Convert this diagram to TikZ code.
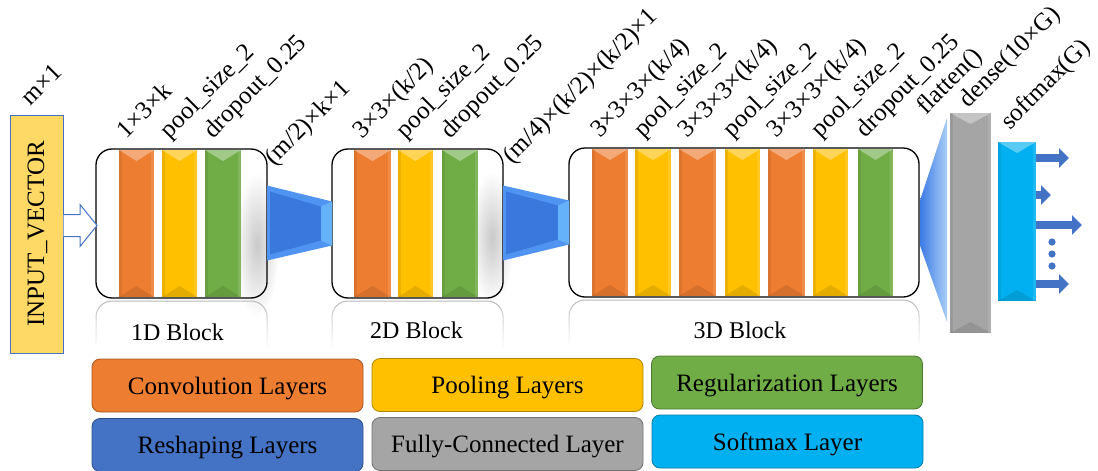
\documentclass[tikz,border=0pt]{standalone}
\usepackage{fontspec}
\setmainfont{Liberation Serif}
\usetikzlibrary{calc,fadings,arrows.meta}

\definecolor{cOrange}{HTML}{ED7D31}
\definecolor{cYellow}{HTML}{FFC000}
\definecolor{cGreen}{HTML}{70AD47}
\definecolor{cBlue}{HTML}{4472C4}
\definecolor{cGrey}{HTML}{A5A5A5}
\definecolor{cCyan}{HTML}{00B0F0}
\definecolor{cInput}{HTML}{FFD966}
\definecolor{cFunA}{HTML}{5094F2}
\definecolor{cFunB}{HTML}{3B78DE}
\definecolor{cFunC}{HTML}{66B2FA}
\definecolor{cFlatA}{HTML}{3C7BE4}
\definecolor{cFlatB}{HTML}{A9CDF7}

\tikzfading[name=NNsoft, inner color=transparent!65, outer color=transparent!100]

\tikzset{
  barnode/.style={inner sep=0pt, outer sep=0pt, draw=none},
  blockbox/.style={draw=black, line width=1.3pt, rounded corners=16pt, inner sep=0pt, outer sep=0pt, minimum height=149pt},
  toplabel/.style={rotate=45, anchor=base west, inner sep=0pt, outer sep=0pt, font=\fontsize{25}{25}\selectfont},
  blocklabel/.style={anchor=base, inner sep=0pt, font=\fontsize{24}{24}\selectfont},
  legend/.style={draw=#1!70!black, fill=#1, line width=0.8pt, rounded corners=8pt, minimum width=271pt, minimum height=53pt, inner sep=0pt, text depth=0pt, font=\fontsize{25}{25}\selectfont},
  reflect/.style={draw=black!28, line width=1pt, rounded corners=16pt, path fading=south},
  outarrow/.style={draw=cBlue, line width=8pt, -{Triangle[length=10pt,width=19pt]}},
  hollowarrow/.style={draw=cBlue, fill=white, line width=1pt},
  softshadow/.style={fill=black!60, path fading=NNsoft},
}

% name, xleft, xright, ytop, ybottom, colour
\newcommand\NNbar[6]{%
  \node[barnode, fill=#6, minimum width={(#3-#2)*1pt}, minimum height={(#5-#4)*1pt}] (#1) at ({(#2+#3)/2},{(#4+#5)/2}) {};
  \fill[white, opacity=.35] (#1.north west) -- (#1.north east) -- ($(#1.north)+(0,11)$) -- cycle;
  \fill[black, opacity=.10] (#1.south west) -- (#1.south east) -- ($(#1.south)+(0,-11)$) -- cycle;
  \fill[black, opacity=.07] (#1.north west) -- ($(#1.north west)+(3,0)$) -- ($(#1.south west)+(3,0)$) -- (#1.south west) -- cycle;
  \fill[white, opacity=.12] (#1.north east) -- ($(#1.north east)+(-3,0)$) -- ($(#1.south east)+(-3,0)$) -- (#1.south east) -- cycle;
}
% funnel between two anchors
\newcommand\NNfunnel[2]{%
  \fill[cFunA] ($(#1)+(0,-38)$) -- ($(#2)+(0,-22)$) -- ($(#2)+(0,22)$) -- ($(#1)+(0,37)$) -- cycle;
  \fill[cFunB] ($(#1)+(3,-32)$) -- ($(#2)+(-11,-17)$) -- ($(#2)+(-11,17)$) -- ($(#1)+(3,31)$) -- cycle;
  \fill[cFunC] ($(#2)+(0,-22)$) -- ($(#2)+(0,22)$) -- ($(#2)+(-11,17)$) -- ($(#2)+(-11,-17)$) -- cycle;
}
\newcommand\NNreflect[1]{%
  \draw[reflect] ($(#1.south west)+(0,50)$) -- ($(#1.south west)+(0,3)$) -- ($(#1.south east)+(0,3)$) -- ($(#1.south east)+(0,50)$);
}

\begin{document}
\begin{tikzpicture}[x=1pt, y=-1pt]
\useasboundingbox (0,0) rectangle (1098,471);
\fill[white] (0,0) rectangle (1098,471);

% soft shadows inside blocks
\fill[softshadow] (257,245) ellipse [x radius=22, y radius=72];
\fill[softshadow] (492,238) ellipse [x radius=22, y radius=66];

% 1D block bars
\NNbar{c11}{119}{154}{150}{297}{cOrange}
\NNbar{c12}{162}{197}{150}{297}{cYellow}
\NNbar{c13}{205}{241}{150}{297}{cGreen}
% 2D block bars
\NNbar{c21}{354}{391}{150}{297}{cOrange}
\NNbar{c22}{398}{433}{150}{297}{cYellow}
\NNbar{c23}{442}{478}{150}{297}{cGreen}
% 3D block bars
\NNbar{c31}{592}{628}{149}{296}{cOrange}
\NNbar{c32}{635}{671}{149}{296}{cYellow}
\NNbar{c33}{679}{716}{149}{296}{cOrange}
\NNbar{c34}{725}{760}{149}{296}{cYellow}
\NNbar{c35}{768}{805}{149}{296}{cOrange}
\NNbar{c36}{813}{848}{149}{296}{cYellow}
\NNbar{c37}{858}{893}{149}{296}{cGreen}

% blocks
\node[blockbox, minimum width=171pt] (b1) at (181.5,223.5) {};
\node[blockbox, minimum width=171pt] (b2) at (417.5,223.5) {};
\node[blockbox, minimum width=350pt] (b3) at (744,222.5) {};

% reflections
\NNreflect{b1}
\NNreflect{b2}
\NNreflect{b3}
\node[blocklabel] (r1) at ($(b1.south)+(-4,42)$) {1D Block};
\node[blocklabel] (r2) at ($(b2.south)+(-1,40)$) {2D Block};
\node[blocklabel] (r3) at ($(b3.south)+(-4,41)$) {3D Block};

% reshaping funnels
\NNfunnel{b1.east}{b2.west}
\NNfunnel{b2.east}{b3.west}

% dense and softmax
\NNbar{dn}{950}{991}{113}{333}{cGrey}
\NNbar{sm}{998}{1036}{142}{301}{cCyan}

% flatten wedge
\shade[left color=cFlatA, right color=cFlatB]
  ($(b3.east)+(1,-22)$) -- ($(dn.north west)+(-3,5)$) -- ($(dn.south west)+(-3,-11)$) -- ($(b3.east)+(1,23)$) -- cycle;

% outputs
\coordinate (o1) at (1069,158);
\coordinate (o2) at (1051,195);
\coordinate (o3) at (1082,225);
\coordinate (o4) at (1069,284);
\draw[outarrow] (sm.east |- o1) -- (o1);
\draw[outarrow] (sm.east |- o2) -- (o2);
\draw[outarrow] (sm.east |- o3) -- (o3);
\draw[outarrow] (sm.east |- o4) -- (o4);
\fill[cBlue] (1052,242) circle [radius=3.6pt];
\fill[cBlue] (1052,254) circle [radius=3.6pt];
\fill[cBlue] (1052,266) circle [radius=3.6pt];

% input vector
\node[draw=cBlue, fill=cInput, line width=1pt, minimum width=53pt, minimum height=238pt, inner sep=0pt] (iv) at (36.5,234) {};
\node[rotate=90, inner sep=0pt, font=\fontsize{25}{25}\selectfont] (ivtext) at ($(iv.center)+(1,0)$) {INPUT\_VECTOR};
\coordinate (inTip) at ($(b1.west)+(1,2)$);
\filldraw[hollowarrow] ($(iv.east |- inTip)+(0,-11)$) -- ($(inTip)+(-17,-11)$) -- ($(inTip)+(-17,-21)$) -- (inTip)
   -- ($(inTip)+(-17,21)$) -- ($(inTip)+(-17,11)$) -- ($(iv.east |- inTip)+(0,11)$);

% top labels
\node[toplabel] (l0) at ($(iv.north)+(-6,-8)$) {m×1};
\node[toplabel] (l11) at ($(c11.north)+(-10,-11)$) {1×3×k};
\node[toplabel] (l12) at ($(c12.north)+(-10,-11)$) {pool\_size\_2};
\node[toplabel] (l13) at ($(c13.north)+(-10,-11)$) {dropout\_0.25};
\node[toplabel] (lr1) at ($(b1.east)+(7,-57)$) {(m/2)×k×1};
\node[toplabel] (l21) at ($(c21.north)+(-10,-11)$) {3×3×(k/2)};
\node[toplabel] (l22) at ($(c22.north)+(-10,-11)$) {pool\_size\_2};
\node[toplabel] (l23) at ($(c23.north)+(-10,-11)$) {dropout\_0.25};
\node[toplabel] (lr2) at ($(b2.east)+(9,-59)$) {(m/4)×(k/2)×(k/2)×1};
\node[toplabel] (l31) at ($(c31.north)+(-10,-11)$) {3×3×3×(k/4)};
\node[toplabel] (l32) at ($(c32.north)+(-10,-11)$) {pool\_size\_2};
\node[toplabel] (l33) at ($(c33.north)+(-10,-11)$) {3×3×3×(k/4)};
\node[toplabel] (l34) at ($(c34.north)+(-10,-11)$) {pool\_size\_2};
\node[toplabel] (l35) at ($(c35.north)+(-10,-11)$) {3×3×3×(k/4)};
\node[toplabel] (l36) at ($(c36.north)+(-10,-11)$) {pool\_size\_2};
\node[toplabel] (l37) at ($(c37.north)+(-10,-11)$) {dropout\_0.25};
\node[toplabel] (lfl) at ($(dn.north west)+(-24,2)$) {flatten()};
\node[toplabel] (ldn) at ($(dn.north)+(-2,-5)$) {dense(10×G)};
\node[toplabel] (lsm) at ($(sm.north)+(-7,-12)$) {softmax(G)};

% legend
\node[legend=cOrange] (lg1) at (227.5,385.5) {Convolution Layers};
\node[legend=cYellow] (lg2) at (507.5,385) {Pooling Layers};
\node[legend=cGreen] (lg3) at (787,382.5) {Regularization Layers};
\node[legend=cBlue] (lg4) at (227.5,445) {Reshaping Layers};
\node[legend=cGrey] (lg5) at (507.5,444) {Fully-Connected Layer};
\node[legend=cCyan] (lg6) at (787.5,441.5) {Softmax Layer};
\end{tikzpicture}
\end{document}
